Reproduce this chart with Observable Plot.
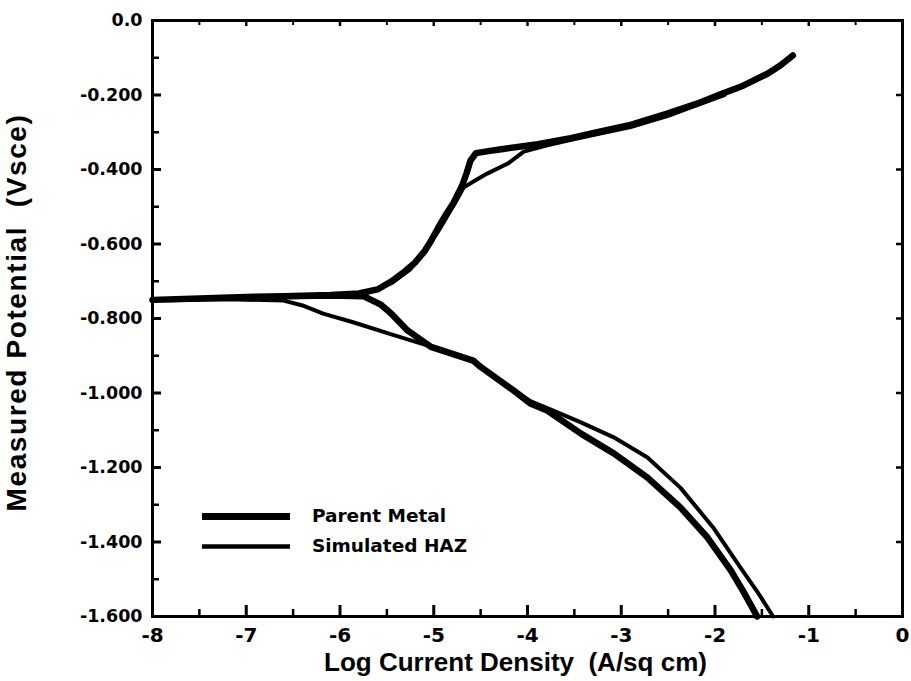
<!DOCTYPE html>
<html>
<head>
<meta charset="utf-8">
<script src="https://cdn.jsdelivr.net/npm/d3@7"></script>
<script src="https://cdn.jsdelivr.net/npm/@observablehq/plot@0.6"></script>
<style>
  html, body { margin: 0; padding: 0; background: #fff; }
  #chart { width: 911px; height: 681px; }
</style>
</head>
<body>
<div id="chart"></div>
<script>
// ---- Data ----
const seriesNames = ["Parent Metal", "Simulated HAZ"];

// Parent Metal: scan order cathodic -> Ecorr -> anodic (log i, E vs SCE)
const parentLogI = [-1.55,-1.70,-1.83,-2.08,-2.37,-2.72,-3.08,-3.43,-3.79,-3.97,-4.15,-4.50,-4.58,-5.03,-5.28,-5.46,-5.57,-5.75,
  -6.10,-6.60,-7.00,-7.50,-8.00,-7.50,-7.00,-6.60,
  -6.10,-5.80,-5.60,-5.45,-5.30,-5.20,-5.10,-5.03,-4.95,-4.88,-4.79,-4.70,-4.65,-4.61,-4.55,-4.40,-4.26,-3.89,-3.54,-3.22,-2.90,-2.51,-2.20,-1.94,-1.70,-1.44,-1.30,-1.17];
const parentE = [-1.600,-1.532,-1.477,-1.388,-1.307,-1.227,-1.162,-1.109,-1.047,-1.028,-0.993,-0.930,-0.913,-0.876,-0.832,-0.785,-0.762,-0.740,
  -0.738,-0.740,-0.742,-0.746,-0.750,-0.746,-0.742,-0.740,
  -0.737,-0.733,-0.722,-0.700,-0.672,-0.650,-0.620,-0.592,-0.555,-0.525,-0.490,-0.445,-0.410,-0.377,-0.356,-0.350,-0.345,-0.332,-0.316,-0.298,-0.280,-0.250,-0.224,-0.198,-0.175,-0.143,-0.120,-0.094];

// Simulated HAZ
const hazLogI = [-1.38,-1.55,-1.73,-2.02,-2.37,-2.72,-3.08,-3.43,-3.70,-3.97,-4.30,-4.60,-4.90,-5.14,-5.46,-5.86,-6.18,-6.40,-6.60,-7.20,-8.00,
  -7.00,-6.40,-6.00,
  -5.70,-5.45,-5.25,-5.08,-4.95,-4.85,-4.75,-4.68,-4.55,-4.43,-4.21,-4.04,-3.80,-3.50,-3.20,-2.90,-2.50,-2.20,-1.90];
const hazE = [-1.600,-1.533,-1.468,-1.361,-1.254,-1.173,-1.119,-1.079,-1.050,-1.022,-0.965,-0.912,-0.885,-0.867,-0.842,-0.810,-0.787,-0.765,-0.752,-0.748,-0.752,
  -0.744,-0.742,-0.740,
  -0.730,-0.705,-0.668,-0.615,-0.565,-0.523,-0.480,-0.448,-0.428,-0.411,-0.384,-0.352,-0.336,-0.318,-0.302,-0.286,-0.256,-0.228,-0.200];

// Ticks
const xMajor = [-8,-7,-6,-5,-4,-3,-2,-1,0];
const xMinor = [-7.5,-6.5,-5.5,-4.5,-3.5,-2.5,-1.5,-0.5];
const yMajor = [0,-0.2,-0.4,-0.6,-0.8,-1.0,-1.2,-1.4,-1.6];
const yMinor = [-0.1,-0.3,-0.5,-0.7,-0.9,-1.1,-1.3,-1.5];

// Titles
const xTitle = "Log Current Density  (A/sq cm)";
const yTitle = "Measured Potential  (Vsce)";

// Legend placement (data units, layout only)
const legendX = [-7.467, -6.528, -6.30];
const legendY = [-1.3315, -1.412];

// ---- Build tables ----
const parent = parentLogI.map((x, i) => ({x, y: parentE[i]}));
const haz = hazLogI.map((x, i) => ({x, y: hazE[i]}));
const widths = [6.5, 4];

const W = 911, H = 681, ML = 152, MR = 9, MT = 20, MB = 65;
const PW = W - ML - MR, PH = H - MT - MB;

const chart = Plot.plot({
  width: W, height: H,
  marginLeft: ML, marginRight: MR, marginTop: MT, marginBottom: MB,
  style: {background: "#fff", color: "#000", fontFamily: "DejaVu Sans", fontWeight: "bold", fontSize: "17px"},
  x: {domain: [-8, 0]},
  y: {domain: [-1.6, 0]},
  marks: [
    // tick labels
    Plot.axisY({ticks: yMajor, tickSize: 0, tickPadding: 10, label: null,
      tickFormat: d => d === 0 ? "0.0" : d.toFixed(3), fontSize: 17.5}),
    Plot.axisX({ticks: xMajor, tickSize: 0, tickPadding: 11, label: null,
      tickFormat: d => String(d), fontSize: 20}),
    // inward ticks
    Plot.tickX(xMajor, {x: d => d, insetTop: PH - 11, strokeWidth: 3}),
    Plot.tickX(xMinor, {x: d => d, insetTop: PH - 7, strokeWidth: 2.5}),
    Plot.tickX(xMajor, {x: d => d, insetBottom: PH - 6, strokeWidth: 2.5}),
    Plot.tickX(xMinor, {x: d => d, insetBottom: PH - 5, strokeWidth: 2}),
    Plot.tickY(yMajor, {y: d => d, insetRight: PW - 9, strokeWidth: 3}),
    Plot.tickY(yMinor, {y: d => d, insetRight: PW - 7, strokeWidth: 2.5}),
    Plot.tickY(yMajor, {y: d => d, insetLeft: PW - 6, strokeWidth: 2.5}),
    // data
    Plot.line(haz, {x: "x", y: "y", stroke: "#000", strokeWidth: widths[1], strokeLinejoin: "round", strokeLinecap: "round"}),
    Plot.line(parent, {x: "x", y: "y", stroke: "#000", strokeWidth: widths[0], strokeLinejoin: "round", strokeLinecap: "round"}),
    // legend
    ...seriesNames.map((name, i) => Plot.ruleY([legendY[i]], {x1: legendX[0], x2: legendX[1], stroke: "#000", strokeWidth: widths[i] + 0.5})),
    ...seriesNames.map((name, i) => Plot.text([name], {x: legendX[2], y: legendY[i], text: d => d, textAnchor: "start",
      fontSize: 18.5, fontFamily: "DejaVu Sans", fontWeight: "bold", fill: "#000"})),
    // axis titles
    Plot.text([xTitle], {frameAnchor: "bottom", textAnchor: "middle", lineAnchor: "middle",
      dy: 46, dx: -12, text: d => d,
      fontSize: 26, fontFamily: "Liberation Sans", fontWeight: "bold", fill: "#000"}),
    Plot.text([yTitle], {frameAnchor: "left", textAnchor: "middle", lineAnchor: "middle",
      dx: -135, dy: -6, rotate: -90, text: d => d,
      fontSize: 28, fontFamily: "Liberation Sans", fontWeight: "bold", fill: "#000"}),
    Plot.frame({stroke: "#000", strokeWidth: 3})
  ]
});
// slightly wider tracking on the vertical title, as in the reference
d3.select(chart).selectAll("text").filter(function() { return this.textContent === yTitle; })
  .style("letter-spacing", "1.6px");
document.getElementById("chart").appendChild(chart);
</script>
</body>
</html>
